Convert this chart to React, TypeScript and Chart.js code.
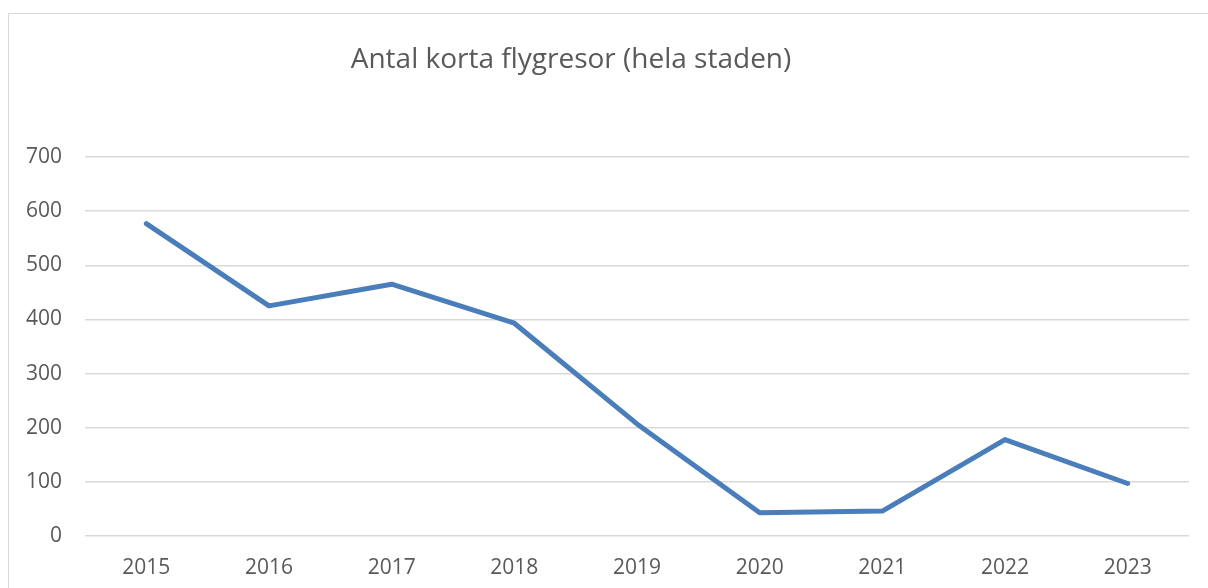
import React, { useEffect, useRef } from "react";
import { Chart, registerables } from "chart.js";

Chart.register(...registerables);

const chartTitle = "Antal korta flygresor (hela staden)";
const years = ["2015", "2016", "2017", "2018", "2019", "2020", "2021", "2022", "2023"];
const trips = [577, 425, 465, 393, 207, 43, 46, 178, 97];
const yTicks = { min: 0, max: 700, step: 100 };

const FONT = "'Open Sans', 'Liberation Sans', sans-serif";
const TEXT = "#595959";

const titlePlugin = {
  id: "customTitle",
  afterDraw(chart: any) {
    const ctx = chart.ctx;
    ctx.save();
    ctx.font = `28px ${FONT}`;
    ctx.fillStyle = TEXT;
    ctx.textAlign = "center";
    ctx.textBaseline = "alphabetic";
    ctx.fillText(chartTitle, 562, 54);
    ctx.restore();
  },
};

export default function App() {
  const ref = useRef<HTMLCanvasElement | null>(null);
  useEffect(() => {
    if (!ref.current) return;
    const chart = new Chart(ref.current, {
      type: "line",
      data: {
        labels: years,
        datasets: [
          {
            data: trips,
            borderColor: "#4a7ebb",
            borderWidth: 5,
            pointRadius: 0,
            pointHoverRadius: 0,
            borderCapStyle: "round",
            borderJoinStyle: "round",
            tension: 0,
            fill: false,
          },
        ],
      },
      options: {
        animation: false,
        responsive: false,
        maintainAspectRatio: false,
        layout: { padding: { top: 143, left: 0, right: 19, bottom: 10 } },
        plugins: {
          legend: { display: false },
          title: { display: false },
          tooltip: { enabled: false },
        },
        scales: {
          x: {
            offset: true,
            afterFit: (s: any) => {
              s.height = 42;
            },
            grid: { display: false, drawTicks: false },
            border: { display: false },
            ticks: { color: TEXT, font: { family: FONT, size: 21 }, padding: 19, maxRotation: 0 },
          },
          y: {
            min: yTicks.min,
            max: yTicks.max,
            afterFit: (s: any) => {
              s.width = 76;
            },
            grid: { color: "#d9d9d9", lineWidth: 1.5, drawTicks: false },
            border: { display: false },
            ticks: {
              stepSize: yTicks.step,
              color: TEXT,
              font: { family: FONT, size: 21 },
              padding: 23,
            },
          },
        },
      },
      plugins: [titlePlugin],
    });
    return () => chart.destroy();
  }, []);

  return (
    <div
      style={{
        position: "fixed",
        left: 8,
        top: 13,
        width: 1230,
        height: 600,
        border: "1px solid #d9d9d9",
        background: "#fff",
      }}
    >
      <canvas ref={ref} width={1199} height={574} style={{ display: "block" }} />
    </div>
  );
}
